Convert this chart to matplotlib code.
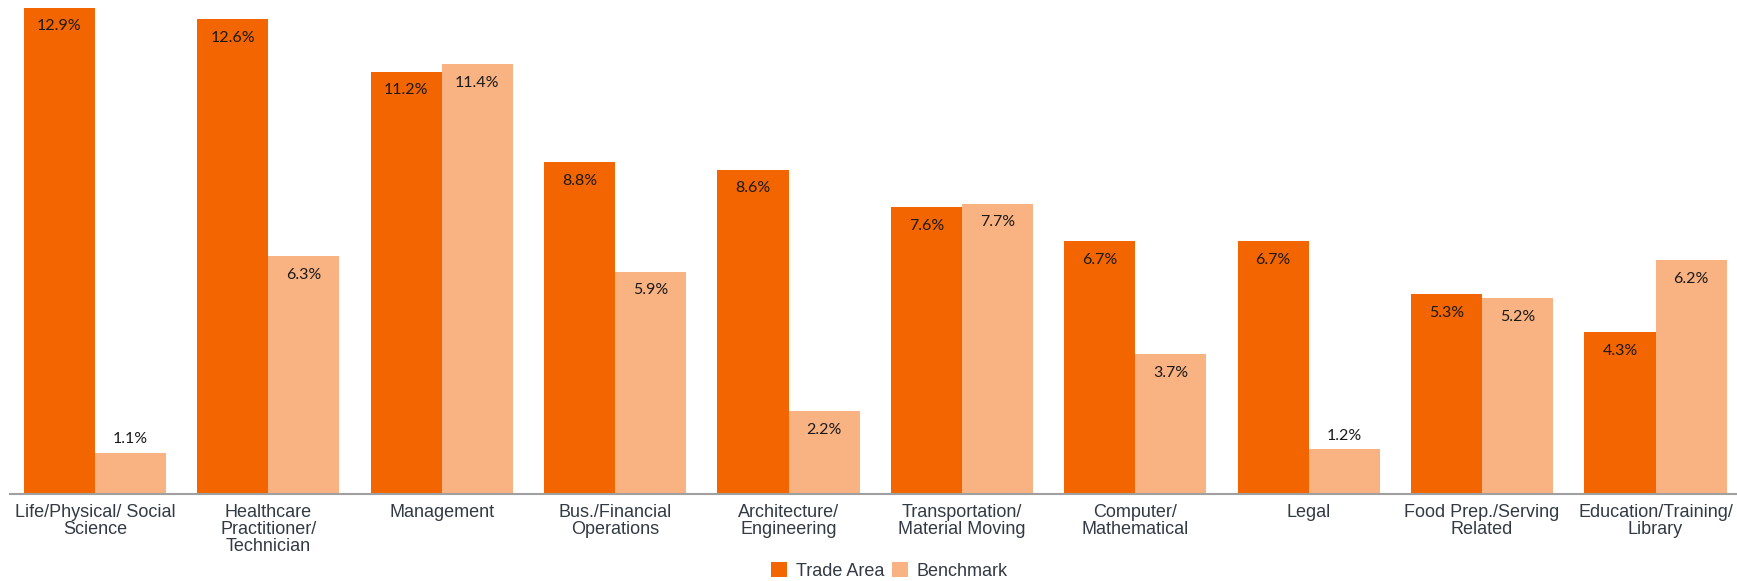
import numpy as np
import matplotlib.pyplot as plt

categories = ["Life/Physical/ Social\nScience", "Healthcare\nPractitioner/\nTechnician",
              "Management", "Bus./Financial\nOperations", "Architecture/\nEngineering",
              "Transportation/\nMaterial Moving", "Computer/\nMathematical", "Legal",
              "Food Prep./Serving\nRelated", "Education/Training/\nLibrary"]
trade_area = [12.9, 12.6, 11.2, 8.8, 8.6, 7.6, 6.7, 6.7, 5.3, 4.3]
benchmark = [1.1, 6.3, 11.4, 5.9, 2.2, 7.7, 3.7, 1.2, 5.2, 6.2]

c_trade = "#F26500"
c_bench = "#F9B282"

fig = plt.figure(figsize=(17.37, 5.81), dpi=100)
ax = fig.add_axes([10 / 1737, 87 / 581, 1 - 10 / 1737, 494 / 581])

x = np.arange(len(categories))
w = 0.41
b1 = ax.bar(x - w / 2, trade_area, w, color=c_trade, label="Trade Area")
b2 = ax.bar(x + w / 2, benchmark, w, color=c_bench, label="Benchmark")

# value labels: inside the top of the bar, above it if the bar is too short
for bars, vals in [(b1, trade_area), (b2, benchmark)]:
    for r, v in zip(bars, vals):
        cx = r.get_x() + r.get_width() / 2
        dy = 9.5 if v < 1.5 else -13.5
        ax.annotate(f"{v}%", (cx, v), xytext=(0, dy), textcoords="offset points",
                    ha="center", va="center", fontsize=11.5, family="Lato", color="#1a1a1a")

ax.set_xlim(-0.49, 9.47)
ax.set_ylim(0, 13.1)
ax.set_xticks(x)
ax.set_xticklabels(categories, fontsize=13, family="Liberation Sans", color="#333a44",
                   linespacing=1.0)
ax.tick_params(axis="x", length=0, pad=7)
ax.set_yticks([])
for s in ["top", "right", "left"]:
    ax.spines[s].set_visible(False)
ax.spines["bottom"].set_color("#a0a0a0")
ax.spines["bottom"].set_linewidth(1.5)

fig.legend(loc="center", bbox_to_anchor=(0.512, 10 / 581), ncol=2, frameon=False,
           prop={"family": "Liberation Sans", "size": 13}, handlelength=0.9,
           handleheight=0.9, handletextpad=0.45, columnspacing=0.45, labelcolor="#333a44")

fig.savefig("out.png", dpi=100)
